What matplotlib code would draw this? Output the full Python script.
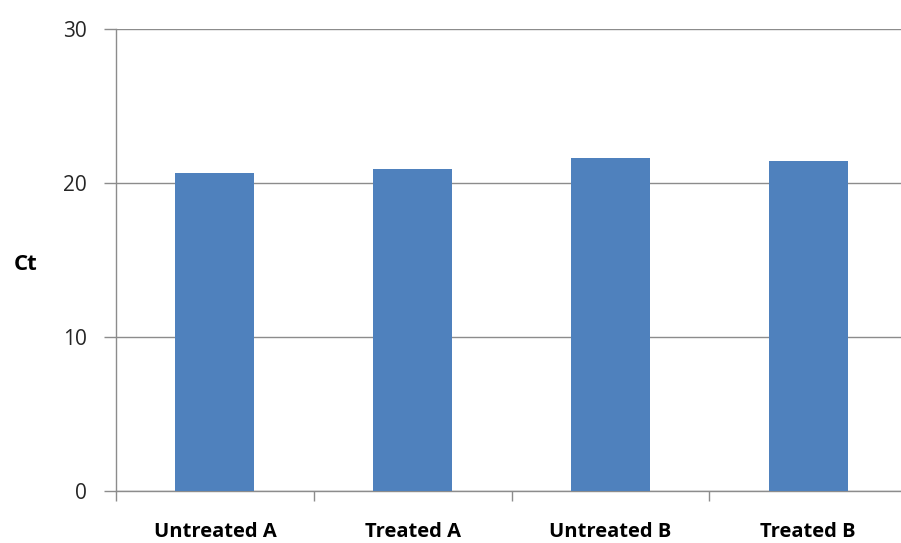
import matplotlib
matplotlib.use("Agg")
import matplotlib.pyplot as plt
import numpy as np

categories = ["Untreated A", "Treated A", "Untreated B", "Treated B"]
ct_values = [20.65, 20.9, 21.6, 21.4]
y_ticks = [0, 10, 20, 30]

BAR_COLOR = "#4f81bd"
GRID_COLOR = "#8c8c8c"

plt.rcParams["font.family"] = ["Open Sans", "DejaVu Sans"]

fig = plt.figure(figsize=(9.01, 5.43), dpi=100)
# the plot area runs slightly past the right edge of the canvas
ax = fig.add_axes([116 / 901, 1 - 491 / 543, 791 / 901, 462 / 543])

x = np.arange(len(categories))
ax.bar(x, ct_values, width=0.4, color=BAR_COLOR, zorder=3)

ax.set_xlim(-0.5, len(categories) - 0.5)
ax.set_ylim(0, 30)

# horizontal gridlines, value axis on the left only
ax.set_yticks(y_ticks)
ax.yaxis.grid(True, color=GRID_COLOR, linewidth=1.0, zorder=0)
for side in ("top", "right"):
    ax.spines[side].set_visible(False)
for side in ("left", "bottom"):
    ax.spines[side].set_color(GRID_COLOR)
    ax.spines[side].set_linewidth(1.0)

ax.tick_params(axis="y", length=9, width=1.0, color=GRID_COLOR, pad=12,
               labelsize=15, labelcolor="#262626")

# category ticks sit between the bars
ax.set_xticks(np.arange(len(categories) + 1) - 0.5)
ax.set_xticklabels([])
ax.tick_params(axis="x", length=7, width=1.0, color=GRID_COLOR)
ax.set_xticks(x, minor=True)
ax.set_xticklabels(categories, minor=True, fontsize=14.5, fontweight="bold")
ax.tick_params(axis="x", which="minor", length=0, pad=22)

fig.text(26 / 901, 1 - 264 / 543, "Ct", fontsize=16, fontweight="bold",
         ha="center", va="center")

fig.savefig("out.png", dpi=100)
